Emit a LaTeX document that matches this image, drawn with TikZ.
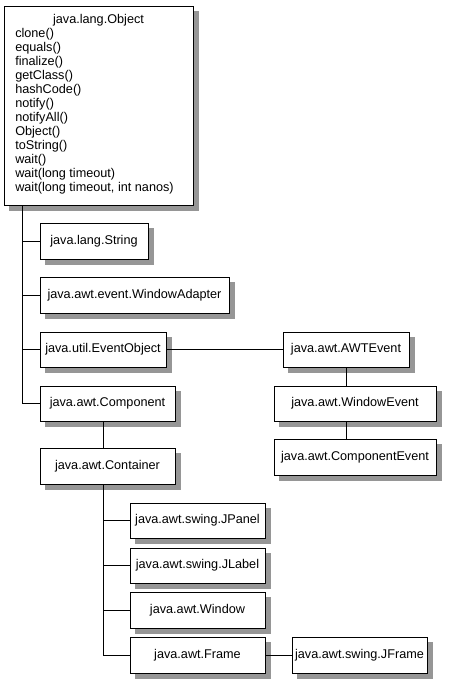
\documentclass[tikz,border=0pt]{standalone}
\usepackage{fontspec}
\setmainfont{Liberation Sans}
\definecolor{shadowgray}{RGB}{150,150,150}
\begin{document}
\begin{tikzpicture}[x=0.75pt,y=-0.75pt,
  cls/.style={draw=black, line width=0.75pt, fill=white, inner sep=0pt,
    font=\fontsize{9.5}{10.5}\selectfont},
  txt/.style={inner sep=0pt, font=\fontsize{9.5}{10.5}\selectfont},
  conn/.style={draw=black, line width=0.75pt}]
\useasboundingbox (0,0) rectangle (470,685);
\fill[white] (0,0) rectangle (470,685);
% java.lang.Object
\node[cls, minimum width=189*0.75pt, minimum height=198*0.75pt] (obj) at (98.5,106) {};
\node[txt] (objtitle) at (98.5,20.5) {java.lang.Object};
\node[txt, align=left, anchor=west] (objmembers) at (15,111) {clone()\\equals()\\finalize()\\getClass()\\hashCode()\\notify()\\notifyAll()\\Object()\\toString()\\wait()\\wait(long timeout)\\wait(long timeout, int nanos)};
% first level
\node[cls, minimum width=108*0.75pt, minimum height=36*0.75pt] (str) at (94,241) {java.lang.String};
\node[cls, minimum width=189*0.75pt, minimum height=36*0.75pt] (wad) at (134.5,295) {java.awt.event.WindowAdapter};
\node[cls, minimum width=126*0.75pt, minimum height=35*0.75pt] (eo) at (103,349.5) {java.util.EventObject};
\node[cls, minimum width=135*0.75pt, minimum height=35*0.75pt] (comp) at (107.5,403.5) {java.awt.Component};
\node[cls, minimum width=135*0.75pt, minimum height=36*0.75pt] (cont) at (107.5,466) {java.awt.Container};
% events
\node[cls, minimum width=126*0.75pt, minimum height=35*0.75pt] (awt) at (346,349.5) {java.awt.AWTEvent};
\node[cls, minimum width=162*0.75pt, minimum height=35*0.75pt] (we) at (355,403.5) {java.awt.WindowEvent};
\node[cls, minimum width=162*0.75pt, minimum height=36*0.75pt] (ce) at (355,457) {java.awt.ComponentEvent};
% container children
\node[cls, minimum width=135*0.75pt, minimum height=35*0.75pt] (jp) at (197.5,520.5) {java.awt.swing.JPanel};
\node[cls, minimum width=135*0.75pt, minimum height=35*0.75pt] (jl) at (197.5,565.5) {java.awt.swing.JLabel};
\node[cls, minimum width=135*0.75pt, minimum height=36*0.75pt] (win) at (197.5,610) {java.awt.Window};
\node[cls, minimum width=135*0.75pt, minimum height=36*0.75pt] (fr) at (197.5,655) {java.awt.Frame};
\node[cls, minimum width=135*0.75pt, minimum height=36*0.75pt] (jf) at (359.5,655) {java.awt.swing.JFrame};
% shadows: right and bottom strips, drawn over the page next to each box
\foreach \n in {obj,str,wad,eo,comp,cont,awt,we,ce,jp,jl,win,fr,jf}{
  \fill[shadowgray] ([shift={(0.6,5)}]\n.north east) rectangle ([shift={(5,5)}]\n.south east);
  \fill[shadowgray] ([shift={(5,0.6)}]\n.south west) rectangle ([shift={(5,5)}]\n.south east);
}
% trunks
\coordinate (t1) at (22,205);
\coordinate (t2) at (103,484);
\draw[conn] (t1) |- (comp.west);
\draw[conn] (str.west) -- (str.west -| t1);
\draw[conn] (wad.west) -- (wad.west -| t1);
\draw[conn] (eo.west) -- (eo.west -| t1);
\draw[conn] (eo.east) -- (awt.west);
\draw[conn] (awt.south) -- (awt.south |- we.north);
\draw[conn] (we.south -| awt.south) -- (ce.north -| awt.south);
\draw[conn] (comp.south -| t2) -- (cont.north -| t2);
\draw[conn] (t2) |- (fr.west);
\draw[conn] (jp.west) -- (jp.west -| t2);
\draw[conn] (jl.west) -- (jl.west -| t2);
\draw[conn] (win.west) -- (win.west -| t2);
\draw[conn] (fr.east) -- (jf.west);
\end{tikzpicture}
\end{document}
